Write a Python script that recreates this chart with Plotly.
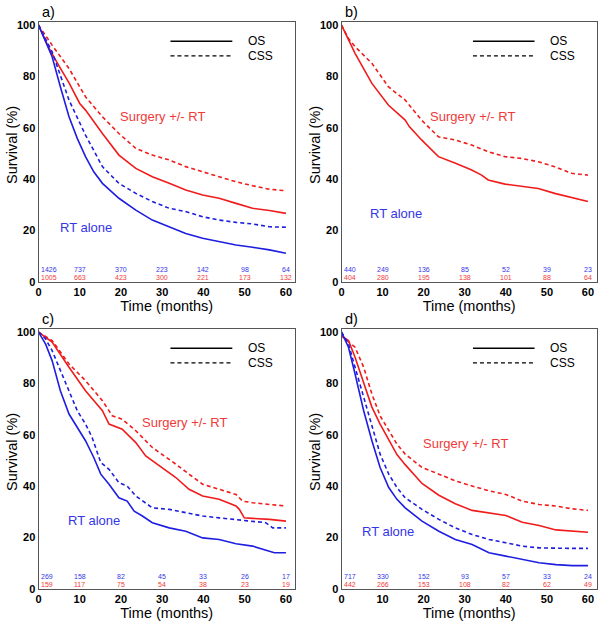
import plotly.graph_objects as go

# ---------------- data ----------------
# Panel a
A_RED_OS_T = [0, 2.7, 5.0, 7.4, 10.0, 11.4, 15.5, 19.5, 23.6, 27.6, 31.7, 35.7, 39.8, 43.8, 47.9, 51.9, 56.0, 60.0]
A_RED_OS = [100, 90.5, 84.0, 77.5, 69.5, 66.9, 57.8, 49.4, 44.2, 41.0, 38.4, 35.8, 33.9, 32.6, 30.6, 28.7, 27.8, 26.7]
A_RED_CSS_T = [0, 3.3, 7.4, 11.4, 15.5, 19.5, 23.6, 27.6, 31.7, 35.7, 39.8, 43.8, 47.9, 51.9, 56.0, 60.0]
A_RED_CSS = [100, 92.2, 83.1, 72.1, 64.3, 57.8, 52.0, 49.4, 47.5, 44.9, 42.9, 41.0, 39.0, 37.5, 36.1, 35.5]
A_BLUE_OS_T = [0, 3.3, 5.3, 7.4, 9.4, 11.4, 13.4, 15.5, 19.5, 23.6, 27.6, 31.7, 35.7, 39.8, 43.8, 47.9, 51.9, 56.0, 60.0]
A_BLUE_OS = [100, 87.7, 76.0, 64.3, 55.9, 48.8, 42.9, 38.4, 32.6, 28.0, 24.1, 21.5, 18.9, 17.0, 15.7, 14.4, 13.5, 12.5, 11.2]
A_BLUE_CSS_T = [0, 3.3, 7.4, 11.4, 15.5, 19.5, 23.6, 27.6, 31.7, 35.7, 39.8, 43.8, 47.9, 51.9, 56.0, 60.0]
A_BLUE_CSS = [100, 89.6, 70.8, 57.2, 44.9, 38.4, 34.5, 31.3, 28.7, 27.4, 25.4, 24.1, 23.2, 22.6, 21.5, 21.3]

# Panel b (surgery group only)
B_RED_OS_T = [0, 3.3, 7.4, 11.4, 15.5, 16.5, 19.5, 23.6, 27.6, 31.7, 34.1, 35.7, 39.8, 43.8, 47.9, 51.9, 56.0, 60.0]
B_RED_OS = [100, 89.0, 77.3, 68.9, 63.0, 60.5, 55.3, 48.8, 46.3, 43.6, 41.6, 39.7, 38.1, 37.4, 36.4, 34.5, 32.8, 31.3]
B_RED_CSS_T = [0, 1.7, 3.3, 7.4, 11.4, 15.5, 19.5, 23.6, 27.6, 31.7, 35.7, 39.8, 43.8, 47.9, 51.9, 56.0, 60.0]
B_RED_CSS = [100, 94.8, 91.6, 85.1, 76.0, 70.8, 63.0, 56.5, 55.3, 53.3, 50.7, 48.8, 48.1, 46.8, 44.9, 42.3, 41.6]

# Panel c
C_RED_OS_T = [0, 3.3, 7.4, 11.4, 15.5, 17.1, 20.3, 23.6, 26.0, 30.0, 33.3, 36.5, 39.8, 43.8, 47.9, 48.7, 49.9, 51.9, 56.0, 60.0]
C_RED_OS = [100, 96.1, 86.3, 77.2, 69.4, 64.2, 62.2, 57.0, 51.8, 47.3, 43.4, 38.8, 36.2, 34.9, 32.3, 31.0, 27.7, 27.5, 27.1, 26.4]
C_RED_CSS_T = [0, 3.3, 7.4, 11.4, 15.5, 17.9, 20.3, 23.6, 27.6, 30.0, 33.3, 36.5, 39.8, 43.8, 47.9, 49.5, 51.9, 56.0, 60.0]
C_RED_CSS = [100, 96.7, 87.6, 81.1, 73.3, 67.4, 66.1, 61.6, 55.1, 52.5, 48.6, 44.7, 40.8, 38.8, 36.8, 34.2, 33.6, 32.9, 32.3]
C_BLUE_OS_T = [0, 1.7, 3.3, 5.3, 7.4, 9.4, 11.4, 13.4, 15.1, 17.1, 19.5, 21.5, 23.2, 25.2, 27.6, 31.7, 35.7, 39.8, 43.8, 47.9, 51.9, 56.0, 57.2, 60.0]
C_BLUE_OS = [100, 95.4, 88.9, 77.2, 68.1, 62.9, 57.7, 51.2, 44.7, 40.8, 35.5, 34.2, 30.3, 28.4, 25.8, 23.8, 22.5, 19.9, 19.3, 17.6, 16.7, 14.7, 14.1, 14.1]
C_BLUE_CSS_T = [0, 1.7, 3.3, 5.3, 7.4, 9.4, 11.4, 13.0, 15.1, 17.1, 19.5, 21.5, 23.6, 27.6, 31.7, 35.7, 39.8, 43.8, 47.9, 51.9, 55.1, 56.8, 60.0]
C_BLUE_CSS = [100, 97.4, 92.8, 85.0, 77.2, 69.4, 64.2, 59.0, 49.2, 46.6, 41.4, 40.1, 36.2, 31.6, 31.0, 29.7, 28.4, 27.7, 27.1, 26.4, 25.8, 23.8, 23.8]

# Panel d
D_RED_OS_T = [0, 1.7, 3.3, 5.4, 7.4, 9.4, 11.5, 13.5, 15.5, 19.6, 23.7, 27.7, 31.8, 35.9, 40.0, 44.0, 48.1, 52.2, 56.2, 60.0]
D_RED_OS = [98.5, 96.7, 90.2, 79.8, 70.8, 64.2, 58.2, 52.3, 48.4, 41.1, 36.5, 33.2, 30.6, 29.6, 28.6, 26.0, 24.7, 23.0, 22.4, 22.1]
D_RED_CSS_T = [0, 3.3, 5.4, 7.4, 9.4, 11.5, 13.5, 15.5, 19.6, 23.7, 27.7, 31.8, 35.9, 40.0, 44.0, 48.1, 52.2, 56.2, 60.0]
D_RED_CSS = [98.5, 94.1, 86.3, 75.9, 67.4, 61.6, 56.4, 52.5, 47.3, 44.7, 42.1, 40.1, 38.2, 36.8, 34.2, 32.9, 32.3, 31.2, 30.6]
D_BLUE_OS_T = [0, 1.7, 3.3, 5.4, 7.4, 9.4, 11.5, 13.5, 15.5, 19.6, 23.7, 27.7, 31.8, 35.9, 40.0, 44.0, 48.1, 52.2, 56.2, 60.0]
D_BLUE_OS = [100, 94.1, 83.7, 69.4, 57.7, 47.3, 39.5, 34.9, 31.6, 26.4, 22.5, 19.3, 17.3, 14.1, 12.8, 11.5, 10.2, 9.5, 9.1, 9.1]
D_BLUE_CSS_T = [0, 1.7, 3.3, 5.4, 7.4, 9.4, 11.5, 13.5, 15.5, 19.6, 23.7, 27.7, 31.8, 35.9, 40.0, 44.0, 48.1, 52.2, 56.2, 60.0]
D_BLUE_CSS = [100, 95.4, 86.3, 74.6, 62.9, 52.5, 44.7, 39.5, 35.5, 31.0, 27.1, 23.8, 21.2, 19.3, 18.0, 16.7, 16.0, 15.8, 15.8, 15.8]

# Numbers at risk
RISK_TIMES = [0, 10, 20, 30, 40, 50, 60]
A_RISK_RT = [1426, 737, 370, 223, 142, 98, 64]
A_RISK_SURG = [1005, 663, 423, 300, 221, 173, 132]
B_RISK_RT = [440, 249, 136, 85, 52, 39, 23]
B_RISK_SURG = [404, 280, 195, 138, 101, 88, 64]
C_RISK_RT = [269, 158, 82, 45, 33, 26, 17]
C_RISK_SURG = [159, 117, 75, 54, 38, 23, 19]
D_RISK_RT = [717, 330, 152, 93, 57, 33, 24]
D_RISK_SURG = [442, 266, 153, 108, 82, 62, 49]

PANEL_LABELS = ["a)", "b)", "c)", "d)"]
X_TICKS = [0, 10, 20, 30, 40, 50, 60]
Y_TICKS = [0, 20, 40, 60, 80, 100]

# ---------------- styling ----------------
FW, FH = 602, 624
RED = "#F01C1C"
BLUE = "#1E1EE0"
RED_TXT = "#F03A3A"
BLUE_TXT = "#3535E8"
FONT = "Liberation Sans, Arial, sans-serif"
DASH = "4px,3px"

# pixel boxes of the four plot areas (left, right, top, bottom)
BOXES = [(38.5, 295, 22, 282), (341.5, 597, 22, 282),
         (38.5, 295, 329, 589), (341.5, 597, 329, 589)]


def px(xp):
    return xp / FW


def py(yp):
    return 1 - yp / FH


panels = [
    dict(series=[(A_RED_OS_T, A_RED_OS, RED, "solid"), (A_RED_CSS_T, A_RED_CSS, RED, DASH),
                 (A_BLUE_OS_T, A_BLUE_OS, BLUE, "solid"), (A_BLUE_CSS_T, A_BLUE_CSS, BLUE, DASH)],
         rt=A_RISK_RT, surg=A_RISK_SURG, surg_lbl=(30.1, 64.6), rt_lbl=(11.4, 21.4)),
    dict(series=[(B_RED_OS_T, B_RED_OS, RED, "solid"), (B_RED_CSS_T, B_RED_CSS, RED, DASH)],
         rt=B_RISK_RT, surg=B_RISK_SURG, surg_lbl=(32.0, 64.6), rt_lbl=(13.2, 26.8)),
    dict(series=[(C_RED_OS_T, C_RED_OS, RED, "solid"), (C_RED_CSS_T, C_RED_CSS, RED, DASH),
                 (C_BLUE_OS_T, C_BLUE_OS, BLUE, "solid"), (C_BLUE_CSS_T, C_BLUE_CSS, BLUE, DASH)],
         rt=C_RISK_RT, surg=C_RISK_SURG, surg_lbl=(35.5, 65.0), rt_lbl=(13.4, 26.8)),
    dict(series=[(D_RED_OS_T, D_RED_OS, RED, "solid"), (D_RED_CSS_T, D_RED_CSS, RED, DASH),
                 (D_BLUE_OS_T, D_BLUE_OS, BLUE, "solid"), (D_BLUE_CSS_T, D_BLUE_CSS, BLUE, DASH)],
         rt=D_RISK_RT, surg=D_RISK_SURG, surg_lbl=(30.2, 56.8), rt_lbl=(11.2, 22.2)),
]

fig = go.Figure()
annotations = []
shapes = []
layout = {}

for i, p in enumerate(panels):
    n = i + 1
    xa = "x" if n == 1 else f"x{n}"
    ya = "y" if n == 1 else f"y{n}"
    for t, v, col, dash in p["series"]:
        fig.add_trace(go.Scatter(x=t, y=v, mode="lines", xaxis=xa, yaxis=ya,
                                 line=dict(color=col, width=1.6, dash=dash),
                                 showlegend=False, hoverinfo="skip"))
    l, r, tp, bt = BOXES[i]
    common = dict(showline=True, mirror=True, linecolor="#555555", linewidth=1,
                  showgrid=False, zeroline=False, ticks="", automargin=False,
                  tickfont=dict(family=FONT, size=11, color="black", weight="bold"))
    layout["xaxis" if n == 1 else f"xaxis{n}"] = dict(
        domain=[px(l), px(r)], anchor=ya, range=[0, 62.2], tickvals=X_TICKS,
        title=dict(text="Time (months)", font=dict(family=FONT, size=14.5, color="black"), standoff=2),
        **common)
    layout["yaxis" if n == 1 else f"yaxis{n}"] = dict(
        domain=[py(bt), py(tp)], anchor=xa, range=[0, 101.2], tickvals=Y_TICKS,
        **common)

    # y-axis title (placed as rotated text to match the reference offset)
    annotations.append(dict(text="Survival (%)", xref="paper", yref="paper",
                            x=px(l - 26.5), y=py(tp + 123), xanchor="center", yanchor="middle",
                            textangle=-90, showarrow=False,
                            font=dict(family=FONT, size=14.5, color="black")))
    # panel letter
    annotations.append(dict(text=PANEL_LABELS[i], xref="paper", yref="paper",
                            x=px(l + 1), y=py(tp - 10), xanchor="left", yanchor="middle",
                            showarrow=False, font=dict(family=FONT, size=14.5, color="black")))
    # legend
    for yy, dsh, lbl in [(93.7, "solid", "OS"), (88.0, DASH, "CSS")]:
        shapes.append(dict(type="line", xref=xa, yref=ya, x0=32, x1=47, y0=yy, y1=yy,
                           line=dict(color="black", width=1.4, dash=dsh)))
        annotations.append(dict(text=lbl, xref=xa, yref=ya, x=50.2, y=yy, xanchor="left",
                                yanchor="middle", showarrow=False,
                                font=dict(family=FONT, size=12, color="black")))
    # group labels
    annotations.append(dict(text="Surgery +/- RT", xref=xa, yref=ya, x=p["surg_lbl"][0], y=p["surg_lbl"][1],
                            showarrow=False, font=dict(family=FONT, size=13, color=RED_TXT)))
    annotations.append(dict(text="RT alone", xref=xa, yref=ya, x=p["rt_lbl"][0], y=p["rt_lbl"][1],
                            showarrow=False, font=dict(family=FONT, size=13, color=BLUE_TXT)))
    # numbers at risk
    for k, tt in enumerate(RISK_TIMES):
        anc = "left" if k == 0 else "center"
        annotations.append(dict(text=str(p["rt"][k]), xref=xa, yref=ya, x=tt, y=4.7,
                                xanchor=anc, yanchor="middle", showarrow=False,
                                font=dict(family=FONT, size=7, color=BLUE_TXT)))
        annotations.append(dict(text=str(p["surg"][k]), xref=xa, yref=ya, x=tt, y=1.6,
                                xanchor=anc, yanchor="middle", showarrow=False,
                                font=dict(family=FONT, size=7, color=RED_TXT)))

fig.update_layout(width=FW, height=FH, margin=dict(l=0, r=0, t=0, b=0),
                  paper_bgcolor="white", plot_bgcolor="white",
                  annotations=annotations, shapes=shapes, **layout)

# the page's default 8px body margin is removed so the 602x624 figure fills the window
fig.write_html("out.html", config={"displayModeBar": False, "staticPlot": True},
               post_script="document.body.style.margin='0';document.body.style.overflow='hidden';")
